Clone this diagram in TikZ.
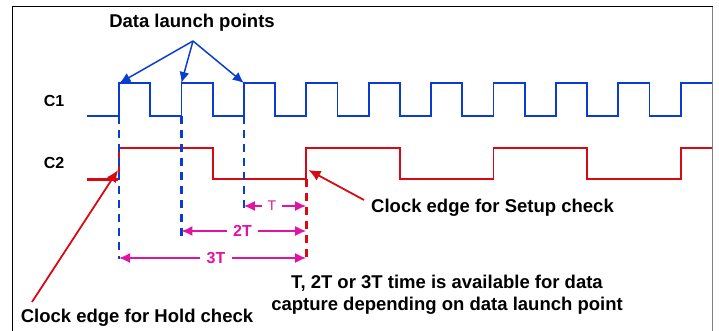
\documentclass[tikz,border=0pt]{standalone}
\usepackage{fontspec}
\setmainfont{Liberation Sans}
\usetikzlibrary{arrows.meta}
\definecolor{cblue}{RGB}{10,60,210}
\definecolor{cred}{RGB}{215,10,20}
\definecolor{cmag}{RGB}{225,20,160}
\tikzset{
  lbl/.style={font=\bfseries\fontsize{18.5}{22}\selectfont, inner sep=0pt, text=black},
  sig/.style={font=\bfseries\fontsize{16}{19}\selectfont, inner sep=0pt, text=black},
  dim/.style={font=\bfseries\fontsize{16}{19}\selectfont, text=cmag, inner sep=6pt},
  dimsmall/.style={font=\fontsize{14}{16}\selectfont, text=cmag, inner sep=6pt},
  dimarrow/.style={cmag, line width=1.6pt, -{Latex[length=11pt,width=10pt]}},
  launcharrow/.style={cblue, line width=1.5pt, -{Latex[length=11pt,width=10pt]}},
  redarrow/.style={cred, line width=1.8pt, -{Latex[length=12pt,width=11pt]}},
  vdash/.style={dash pattern=on 8pt off 6pt},
}
\begin{document}
\begin{tikzpicture}[x=1pt,y=-1pt]
\useasboundingbox (0,0) rectangle (719,331);
% frame
\draw[black, line width=1pt] (12.5,331) -- (12.5,7) -- (712.5,7);
\draw[gray, line width=1.5pt] (712.5,7) -- (712.5,331);

% labels
\node[lbl] (launch) at (192,23) {Data launch points};
\node[sig] (c1) at (54,100.5) {C1};
\node[sig] (c2) at (54,162.5) {C2};
\node[lbl, anchor=west] (setup) at (371,208) {Clock edge for Setup check};
\node[lbl] (hold) at (137,318) {Clock edge for Hold check};
\node[lbl, align=center] (avail) at (447,295) {T, 2T or 3T time is available for data\\[0.5pt]capture depending on data launch point};

% C1 waveform
\draw[cblue, line width=1.8pt, line join=miter]
  (87,116)
  \foreach \r in {119,181.4,243.8,306.2,368.6,431.0,493.4,555.8,618.2} {
    -- (\r,116) -- (\r,83) -- ({\r+31.2},83) -- ({\r+31.2},116)
  }
  -- (680.6,116) -- (680.6,83) -- (712,83);

% C2 waveform
\draw[cred, line width=3pt] (87,179) -- (118,179);
\draw[cred, line width=1.8pt, line join=miter]
  (119,179) -- (119,148) -- (212.6,148) -- (212.6,179) -- (306.2,179) -- (306.2,148)
  -- (399.8,148) -- (399.8,179) -- (493.4,179) -- (493.4,148) -- (587,148) -- (587,179)
  -- (680.6,179) -- (680.6,148) -- (712,148);

% vertical dashed markers
\coordinate (d1t) at (119,116);   \coordinate (d1b) at (119,259);
\coordinate (d2t) at (181.4,116); \coordinate (d2b) at (181.4,236);
\coordinate (d3t) at (243.8,116); \coordinate (d3b) at (243.8,209);
\coordinate (d4t) at (306.2,179); \coordinate (d4b) at (306.2,258);
\draw[cblue, line width=1.4pt, vdash] (d1t) -- (d1b);
\draw[cblue, line width=3pt, vdash] (d2t) -- (d2b);
\draw[cblue, line width=2.2pt, vdash] (d3t) -- (d3b);
\draw[cred, line width=2.6pt, vdash] (d4t) -- (d4b);

% dimension arrows
\coordinate (tL) at (243.8,206);  \coordinate (tR) at (306.2,206);
\coordinate (t2L) at (181.4,231); \coordinate (t2R) at (306.2,231);
\coordinate (t3L) at (119,258);   \coordinate (t3R) at (306.2,258);
\node[dimsmall] (T1) at (272,206) {T};
\node[dim] (T2) at (242.5,231) {2T};
\node[dim] (T3) at (216,258) {3T};
\draw[dimarrow] (T1.west) -- (tL);
\draw[dimarrow] (T1.east) -- (tR);
\draw[dimarrow] (T2.west) -- (t2L);
\draw[dimarrow] (T2.east) -- (t2R);
\draw[dimarrow] (T3.west) -- (t3L);
\draw[dimarrow] (T3.east) -- (t3R);

% launch arrows
\coordinate (lp) at (193,41);
\coordinate (e1) at (119.5,83);
\coordinate (e2) at (181.4,83);
\coordinate (e3) at (243.8,83);
\draw[launcharrow] (lp) -- (e1);
\draw[launcharrow] (lp) -- (e2);
\draw[launcharrow] (lp) -- (e3);

% setup / hold arrows
\coordinate (holdS) at (32,302);
\coordinate (holdE) at (118,170);
\coordinate (setS) at (364,200);
\coordinate (setE) at (308.5,170);
\draw[redarrow] (holdS) -- (holdE);
\draw[redarrow] (setS) -- (setE);
\end{tikzpicture}
\end{document}
